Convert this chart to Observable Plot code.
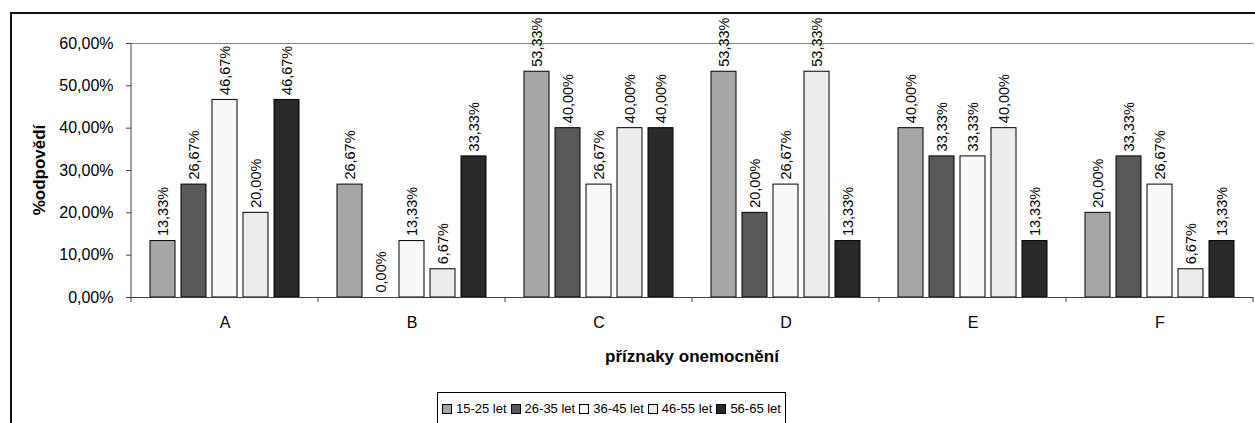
<!DOCTYPE html>
<html>
<head>
<meta charset="utf-8">
<script src="https://cdn.jsdelivr.net/npm/d3@7"></script>
<script src="https://cdn.jsdelivr.net/npm/@observablehq/plot@0.6"></script>
<style>
  html, body { margin: 0; padding: 0; background: #fff; overflow: hidden; }
  body { font-family: "Liberation Sans", Arial, sans-serif; }
  #frame { position: absolute; left: 10px; top: 12px; width: 1270px; height: 440px;
           border: 2px solid #111; box-sizing: border-box; }
  #chart { position: absolute; left: 0; top: 0; }
  #legend { position: absolute; left: 437px; top: 392px; height: 40px;
            border: 1px solid #000; box-sizing: border-box; background: #fff;
            display: flex; align-items: flex-start; padding: 8px 4px 0 4px;
            font-size: 13px; color: #000; white-space: nowrap; }
  #legend .item { display: flex; align-items: center; margin-right: 4px; }
  #legend .item:last-child { margin-right: 0; }
  #legend .sw { width: 8px; height: 8px; border: 1px solid #000; margin-right: 4px; }
</style>
</head>
<body>
<div id="frame"></div>
<div id="chart"></div>
<div id="legend"></div>
<script>
// symptom categories (x groups)
const categories = ["A", "B", "C", "D", "E", "F"];
// age groups (bars within each group)
const series = ["15-25 let", "26-35 let", "36-45 let", "46-55 let", "56-65 let"];
const colors = ["#a6a6a6", "#595959", "#f8f8f8", "#ececec", "#292929"];
// share of responses in %, one array per age group, in category order
const v15_25 = [13.33, 26.67, 53.33, 53.33, 40.00, 20.00];
const v26_35 = [26.67, 0.00, 40.00, 20.00, 33.33, 33.33];
const v36_45 = [46.67, 13.33, 26.67, 26.67, 33.33, 26.67];
const v46_55 = [20.00, 6.67, 40.00, 53.33, 40.00, 6.67];
const v56_65 = [46.67, 33.33, 40.00, 13.33, 13.33, 13.33];
const yTicks = [0, 10, 20, 30, 40, 50, 60];
const yTitle = "%odpovědí";
const xTitle = "příznaky onemocnění";

const valueArrays = [v15_25, v26_35, v36_45, v46_55, v56_65];
const data = [];
categories.forEach((c, ci) => {
  series.forEach((s, si) => {
    data.push({category: c, series: s, value: valueArrays[si][ci]});
  });
});

const pct = v => v.toFixed(2).replace(".", ",") + "%";

const W = 1255, H = 385;
const chart = Plot.plot({
  width: W,
  height: H,
  marginLeft: 128,
  marginRight: 0,
  marginTop: 43,
  marginBottom: 88,
  style: {fontFamily: "'Liberation Sans', Arial, sans-serif", background: "transparent", color: "#000"},
  fx: {domain: categories, padding: 0},
  x: {domain: series, paddingInner: 0.2, paddingOuter: 0.6, axis: null},
  y: {domain: [0, 60], nice: false},
  color: {domain: series, range: colors},
  marks: [
    Plot.ruleY([60], {stroke: "#808080", strokeWidth: 1}),
    Plot.barY(data, {fx: "category", x: "series", y: "value", fill: "series",
                     stroke: "#000", strokeWidth: 1}),
    Plot.text(data, {fx: "category", x: "series", y: "value", text: d => pct(d.value),
                     rotate: -90, textAnchor: "start", lineAnchor: "middle",
                     dy: -5, fontSize: 14.5, fill: "#000"}),
    Plot.ruleY([0], {stroke: "#404040", strokeWidth: 1}),
    Plot.axisY({ticks: yTicks, tickFormat: pct, tickSize: 5, tickPadding: 13,
                fontSize: 16, stroke: "#404040", label: null}),
    Plot.axisFx({anchor: "bottom", tickSize: 0, tickPadding: 19, fontSize: 16, label: null})
  ]
});
document.getElementById("chart").appendChild(chart);

// category boundary ticks, left axis line and axis titles
const fx = chart.scale("fx"), y = chart.scale("y");
const svg = d3.select(chart);
const y0 = y.apply(0), yTop = y.apply(60);
const bw = fx.bandwidth;
const edges = categories.map(c => fx.apply(c)).concat([fx.apply(categories[categories.length - 1]) + bw]);
svg.append("g").attr("stroke", "#404040")
  .selectAll("line").data(edges).join("line")
  .attr("x1", d => d).attr("x2", d => d)
  .attr("y1", y0).attr("y2", y0 + 5);
svg.append("line").attr("stroke", "#404040")
  .attr("x1", edges[0]).attr("x2", edges[0]).attr("y1", yTop).attr("y2", y0);
svg.append("text")
  .attr("transform", `translate(41,${(y0 + yTop) / 2}) rotate(-90)`)
  .attr("text-anchor", "middle").attr("dominant-baseline", "middle")
  .attr("font-size", 17).attr("font-weight", "bold").text(yTitle);
svg.append("text")
  .attr("x", (edges[0] + edges[edges.length - 1]) / 2).attr("y", 358)
  .attr("text-anchor", "middle").attr("dominant-baseline", "middle")
  .attr("font-size", 17).attr("font-weight", "bold").text(xTitle);

// legend
const legend = d3.select("#legend");
series.forEach((s, i) => {
  const item = legend.append("div").attr("class", "item");
  item.append("div").attr("class", "sw").style("background", colors[i]);
  item.append("span").text(s);
});
</script>
</body>
</html>
